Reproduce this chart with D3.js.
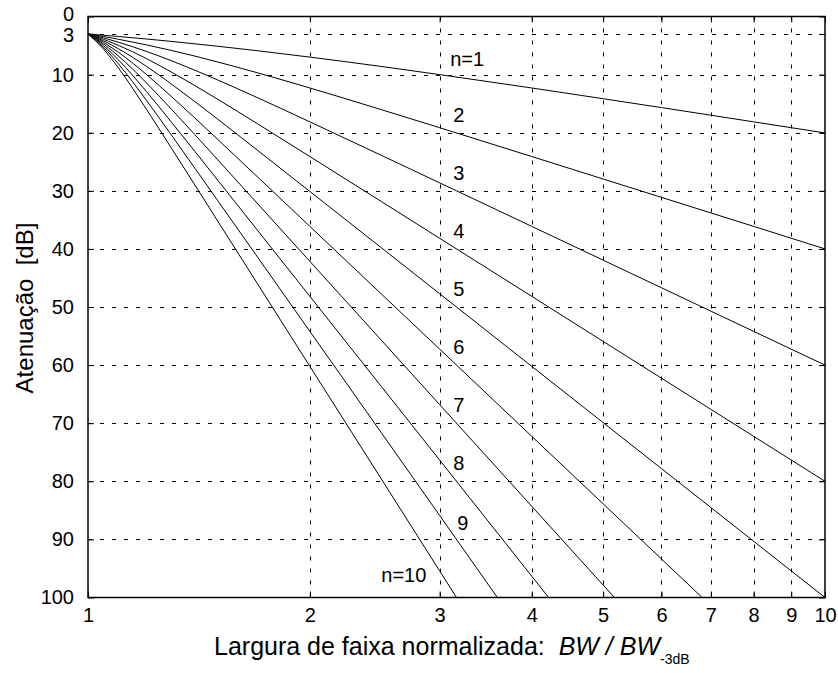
<!DOCTYPE html>
<html lang="pt">
  <head>
    <meta charset="UTF-8" />
    <title>Atenuação Butterworth</title>
    <style>
      body {
        margin: 0;
        background: #fff;
      }
      svg {
        display: block;
        font-family: Arial, "Liberation Sans", sans-serif;
      }
      .grid line {
        stroke: #000;
        stroke-width: 1px;
        stroke-dasharray: 4, 8;
      }
      .curve {
        fill: none;
        stroke: #000;
        stroke-width: 1px;
      }
      .tick text {
        font-size: 20px;
        fill: #000;
      }
      .tick line {
        stroke: #000;
        stroke-width: 1px;
      }
    </style>
  </head>
  <body>
    <svg width="838" height="673"></svg>

    <script src="https://d3js.org/d3.v7.min.js"></script>
    <script>
      // normalized bandwidth values where the curves were read
      const bw = [1, 1.05, 1.1, 1.2, 1.3, 1.5, 1.7, 2, 2.5, 3, 4, 5, 6, 7, 8, 10];

      // attenuation in dB for each order n
      const n1 = [3.0, 3.23, 3.44, 3.87, 4.3, 5.12, 5.9, 6.99, 8.6, 10.0, 12.3, 14.15, 15.68, 16.99, 18.13, 20.04];
      const n2 = [3.0, 3.45, 3.92, 4.88, 5.86, 7.83, 9.71, 12.3, 16.03, 19.14, 24.1, 27.97, 31.13, 33.81, 36.12, 40.0];
      const n3 = [3.0, 3.69, 4.43, 6.01, 7.65, 10.93, 14.0, 18.13, 23.89, 28.63, 36.12, 41.94, 46.69, 50.71, 54.19, 60.0];
      const n4 = [3.0, 3.94, 4.97, 7.24, 9.62, 14.25, 18.5, 24.1, 31.84, 38.17, 48.16, 55.92, 62.25, 67.61, 72.25, 80.0];
      const n5 = [3.0, 4.2, 5.56, 8.57, 11.7, 17.68, 23.07, 30.11, 39.79, 47.71, 60.21, 69.9, 77.82, 84.51, 90.31, 100.0];
      const n6 = [3.0, 4.47, 6.17, 9.96, 13.86, 21.16, 27.66, 36.12, 47.75, 57.25, 72.25, 83.88, 93.38, 101.41];
      const n7 = [3.0, 4.74, 6.81, 11.41, 16.06, 24.67, 32.27, 42.14, 55.71, 66.8, 84.29, 97.86, 108.9];
      const n8 = [3.0, 5.03, 7.48, 12.9, 18.3, 28.18, 36.87, 48.16, 63.67, 76.34, 96.33, 111.8];
      const n9 = [3.0, 5.32, 8.17, 14.41, 20.55, 31.7, 41.48, 54.19, 71.63, 85.88, 108.4];
      const n10 = [3.0, 5.63, 8.88, 15.95, 22.81, 35.22, 46.09, 60.21, 79.59, 95.42, 120.4];

      const series = [n1, n2, n3, n4, n5, n6, n7, n8, n9, n10];

      // curve labels and where they sit (bandwidth, dB)
      const labelText = ["n=1", "2", "3", "4", "5", "6", "7", "8", "9", "n=10"];
      const labelBw = [3.1, 3.13, 3.13, 3.13, 3.13, 3.13, 3.13, 3.13, 3.17, 2.5];
      const labelDb = [8.5, 18.2, 28.1, 38.1, 48.1, 58.1, 68.1, 78.1, 88.3, 97.3];

      const xTicks = [1, 2, 3, 4, 5, 6, 7, 8, 9, 10];
      const yTicks = [0, 3, 10, 20, 30, 40, 50, 60, 70, 80, 90, 100];

      const svg = d3.select("svg");
      const mLeft = 88,
        mRight = 825,
        mTop = 16.5,
        mBottom = 597.5;

      const x = d3.scaleLog().domain([1, 10]).range([mLeft, mRight]);
      const y = d3.scaleLinear().domain([0, 100]).range([mTop, mBottom]);

      // grid
      const grid = svg.append("g").attr("class", "grid");
      grid
        .selectAll("line.v")
        .data(xTicks.slice(1, -1))
        .join("line")
        .attr("class", "v")
        .attr("x1", (d) => Math.round(x(d)) + 0.5)
        .attr("x2", (d) => Math.round(x(d)) + 0.5)
        .attr("y1", mTop)
        .attr("y2", mBottom);
      grid
        .selectAll("line.h")
        .data(yTicks.slice(1, -1))
        .join("line")
        .attr("class", "h")
        .attr("x1", mLeft)
        .attr("x2", mRight)
        .attr("y1", (d) => Math.round(y(d)) + 0.5)
        .attr("y2", (d) => Math.round(y(d)) + 0.5);

      // curves
      svg
        .append("clipPath")
        .attr("id", "plot")
        .append("rect")
        .attr("x", mLeft)
        .attr("y", mTop)
        .attr("width", mRight - mLeft)
        .attr("height", mBottom - mTop);

      const line = d3
        .line()
        .x((d, i) => x(bw[i]))
        .y((d) => y(d))
        .curve(d3.curveMonotoneX);

      svg
        .append("g")
        .attr("clip-path", "url(#plot)")
        .selectAll("path")
        .data(series)
        .join("path")
        .attr("class", "curve")
        .attr("d", line);

      svg
        .append("g")
        .selectAll("text")
        .data(labelText)
        .join("text")
        .attr("x", (d, i) => x(labelBw[i]))
        .attr("y", (d, i) => y(labelDb[i]))
        .attr("font-size", 20)
        .text((d) => d);

      // axes, ticks pointing inward on all four sides
      const tl = 6;
      svg
        .append("g")
        .attr("transform", `translate(0,${mBottom})`)
        .call(d3.axisBottom(x).tickValues(xTicks).tickFormat(d3.format("d")).tickSize(-tl).tickPadding(10))
        .call((g) => g.select(".domain").remove());
      svg
        .append("g")
        .attr("transform", `translate(0,${mTop})`)
        .call(d3.axisTop(x).tickValues(xTicks).tickFormat("").tickSize(-tl))
        .call((g) => g.select(".domain").remove());
      svg
        .append("g")
        .attr("transform", `translate(${mLeft},0)`)
        .call(d3.axisLeft(y).tickValues(yTicks).tickSize(-tl).tickPadding(14))
        .call((g) => g.select(".domain").remove())
        .call((g) =>
          g
            .selectAll(".tick text")
            .attr("dy", (d) => (d === 0 ? "0.18em" : d === 3 ? "0.38em" : "0.32em"))
        );
      svg
        .append("g")
        .attr("transform", `translate(${mRight},0)`)
        .call(d3.axisRight(y).tickValues(yTicks).tickFormat("").tickSize(-tl))
        .call((g) => g.select(".domain").remove());

      svg
        .append("rect")
        .attr("x", mLeft)
        .attr("y", mTop)
        .attr("width", mRight - mLeft)
        .attr("height", mBottom - mTop)
        .attr("fill", "none")
        .attr("stroke", "#000")
        .attr("stroke-width", 1.5);

      // axis titles
      const xl = svg
        .append("text")
        .attr("x", 214)
        .attr("y", 655)
        .attr("font-size", 25);
      xl.append("tspan").text("Largura de faixa normalizada:\u00a0\u00a0");
      xl.append("tspan").attr("font-style", "italic").text("BW / BW");
      xl.append("tspan").attr("font-size", 14).attr("dy", 9).text("-3dB");

      svg
        .append("text")
        .attr("transform", "translate(33,308) rotate(-90)")
        .attr("text-anchor", "middle")
        .attr("font-size", 24)
        .text("Atenuação\u00a0\u00a0[dB]");
    </script>
  </body>
</html>
